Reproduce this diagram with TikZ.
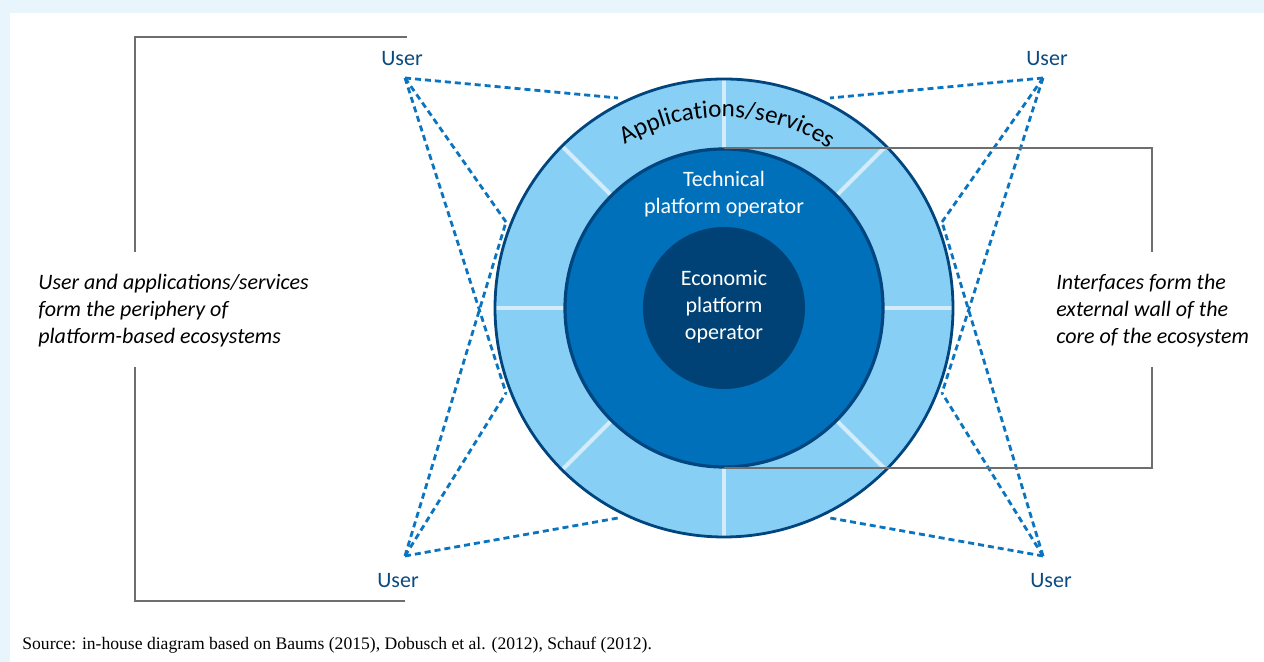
\documentclass[tikz,border=0pt]{standalone}
\usepackage{fontspec}
\setmainfont{Carlito}
\newfontfamily\srcfont{Liberation Serif}
\usetikzlibrary{decorations.text}

\definecolor{panelblue}{HTML}{E8F5FD}
\definecolor{ringlight}{HTML}{87CFF5}
\definecolor{ringmid}{HTML}{0070BA}
\definecolor{ringdark}{HTML}{004275}
\definecolor{rimblue}{HTML}{00457E}
\definecolor{splitblue}{HTML}{D2ECFA}
\definecolor{dotblue}{HTML}{0A74BE}
\definecolor{userblue}{HTML}{0B4A80}
\definecolor{bracketgray}{HTML}{6E6E6E}

\begin{document}
\begin{tikzpicture}[x=0.5pt, y=0.5pt,
    userlink/.style={draw=dotblue, line width=1.4pt, dash pattern=on 3pt off 2pt},
    bracket/.style={draw=bracketgray, line width=0.8pt},
    divider/.style={draw=splitblue, line width=2pt},
    userlabel/.style={text=userblue, font=\fontsize{11}{13}\selectfont, inner sep=0pt},
    inlabel/.style={text=white, align=center, font=\fontsize{11}{13.5}\selectfont, inner sep=0pt},
    note/.style={align=left, font=\fontsize{11}{13.5}\selectfont\itshape, inner sep=0pt}]
      % frame
      \useasboundingbox (0,0) rectangle (1264,662);
      \fill[panelblue] (0,0) rectangle (1264,662);
      \fill[white] (10,0) rectangle (1264,649);

      % rings
      \coordinate (C) at (724,354);
      \fill[ringlight] (C) circle[radius=229];
      \foreach \a in {0,45,...,315}
        \draw[divider] (C) ++(\a:158) -- ++(\a:71);
      \draw[rimblue, line width=1.4pt] (C) circle[radius=229];
      \draw[rimblue, fill=ringmid, line width=1.6pt] (C) circle[radius=159];
      \fill[ringdark] (C) circle[radius=81];

      \path[decorate, decoration={text along path, text align=center,
          text={|\fontsize{12.5}{14}\selectfont|Applications/services}}]
        (C) ++(139:191) arc (139:39:191);

      \node[inlabel] (tech) at (724,468) {Technical\\platform operator};
      \node[inlabel] (econ) at (724,355) {Economic\\platform\\operator};

      % users
      \node[userlabel] (userTL) at (402,603) {User};
      \node[userlabel] (userTR) at (1047,603) {User};
      \node[userlabel] (userBL) at (398,81) {User};
      \node[userlabel] (userBR) at (1051,81) {User};

      \coordinate (aTL) at (405,584);
      \coordinate (aTR) at (1043,584);
      \coordinate (aBL) at (405,106);
      \coordinate (aBR) at (1043,106);
      \coordinate (pT1) at (618,564);
      \coordinate (pT2) at (830,564);
      \coordinate (pB1) at (618,144);
      \coordinate (pB2) at (830,144);
      \coordinate (pL1) at (506,440);
      \coordinate (pL2) at (506,269);
      \coordinate (pR1) at (942,440);
      \coordinate (pR2) at (942,269);

      \draw[userlink] (aTL) -- (pT1);
      \draw[userlink] (aTL) -- (pL1);
      \draw[userlink] (aTL) -- (pL2);
      \draw[userlink] (aBL) -- (pB1);
      \draw[userlink] (aBL) -- (pL1);
      \draw[userlink] (aBL) -- (pL2);
      \draw[userlink] (aTR) -- (pT2);
      \draw[userlink] (aTR) -- (pR1);
      \draw[userlink] (aTR) -- (pR2);
      \draw[userlink] (aBR) -- (pB2);
      \draw[userlink] (aBR) -- (pR1);
      \draw[userlink] (aBR) -- (pR2);

      % brackets
      \draw[bracket] (407,625) -- (135,625) -- (135,410);
      \draw[bracket] (135,295) -- (135,61) -- (405,61);
      \draw[bracket] (724,514) -- (1152,514) -- (1152,410);
      \draw[bracket] (1152,295) -- (1152,194) -- (724,194);

      \node[note, anchor=west] (periphery) at (38,351)
        {User and applications/services\\form the periphery of\\platform-based ecosystems};
      \node[note, anchor=west] (wall) at (1056,351)
        {Interfaces form the\\external wall of the\\core of the ecosystem};

      \node[anchor=west, inner sep=0pt, font=\srcfont\fontsize{8.8}{10}\selectfont] (source) at (22,17)
        {Source: in-house diagram based on Baums (2015), Dobusch et al. (2012), Schauf (2012).};
\end{tikzpicture}
\end{document}
